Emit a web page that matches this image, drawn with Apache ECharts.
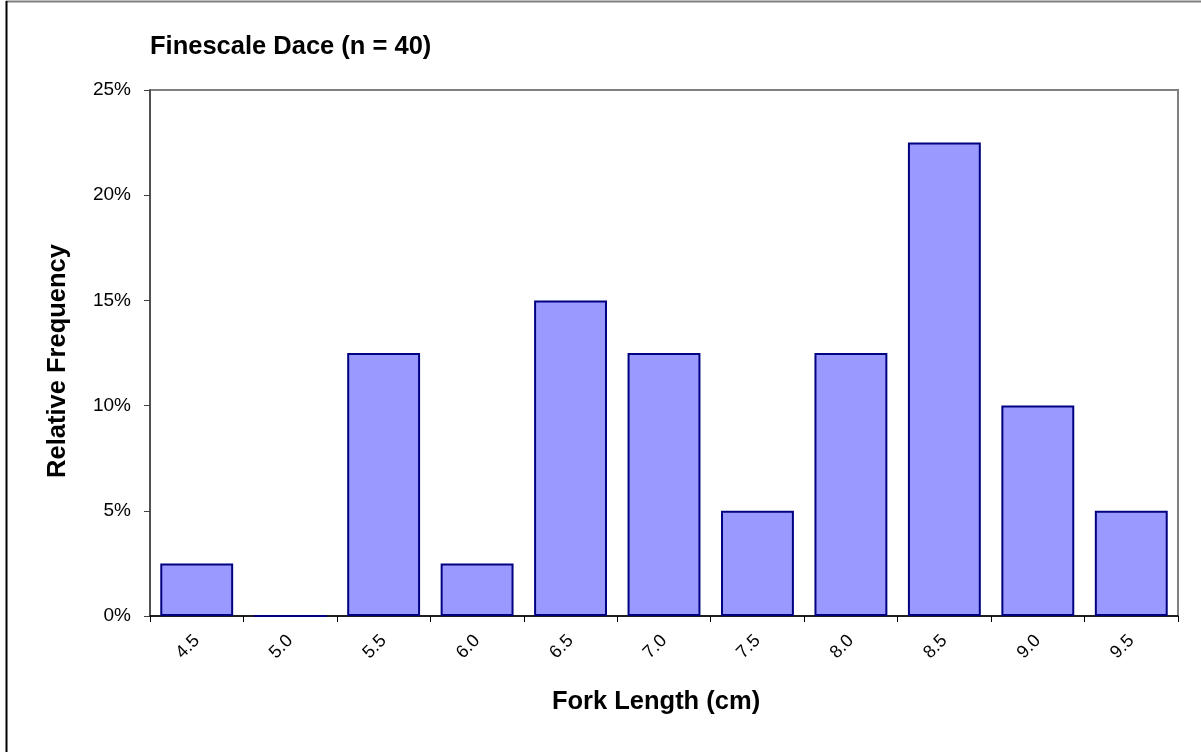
<!DOCTYPE html>
<html>
<head>
<meta charset="utf-8">
<script src="https://cdn.jsdelivr.net/npm/echarts@6/dist/echarts.min.js"></script>
<style>
html,body{margin:0;padding:0;background:#fff;}
#chart{width:1201px;height:752px;}
</style>
</head>
<body>
<div id="chart"></div>
<script>
const categories = ['4.5','5.0','5.5','6.0','6.5','7.0','7.5','8.0','8.5','9.0','9.5'];
const frequencies = [2.5, 0, 12.5, 2.5, 15, 12.5, 5, 12.5, 22.5, 10, 5];
const yTicks = [0, 5, 10, 15, 20, 25];
const titleText = 'Finescale Dace (n = 40)';
const xName = 'Fork Length (cm)';
const yName = 'Relative Frequency';

const chart = echarts.init(document.getElementById('chart'), null, {renderer:'canvas'});
const font = 'Liberation Sans, Arial, sans-serif';
chart.setOption({
  animation:false,
  backgroundColor:'#fff',
  textStyle:{fontFamily:font},
  title:{
    text:titleText, left:145, top:29,
    textStyle:{fontFamily:font, fontSize:25.5, fontWeight:'bold', color:'#000'}
  },
  grid:{left:150, right:23, top:90, bottom:136, show:true, borderColor:'#808080', borderWidth:2, backgroundColor:'transparent'},
  xAxis:{
    type:'category', data:categories,
    name:xName, nameLocation:'middle', nameGap:73,
    nameTextStyle:{fontFamily:font, fontSize:25.5, fontWeight:'bold', color:'#000', padding:[0,16,0,0]},
    axisLine:{lineStyle:{color:'#000', width:1.5}},
    axisTick:{show:true, length:6, lineStyle:{color:'#000'}},
    axisLabel:{rotate:45, fontSize:18, color:'#000', margin:22, fontFamily:font},
    splitLine:{show:false}
  },
  yAxis:{
    type:'value', min:yTicks[0], max:yTicks[yTicks.length-1], interval:5,
    name:yName, nameLocation:'middle', nameGap:79,
    nameTextStyle:{fontFamily:font, fontSize:25.5, fontWeight:'bold', color:'#000', padding:[0,16,0,0]},
    axisLine:{show:true, lineStyle:{color:'#404040', width:1.5}},
    axisTick:{show:true, length:6, lineStyle:{color:'#404040'}},
    axisLabel:{formatter:'{value}%', fontSize:19, color:'#000', margin:19, fontFamily:font},
    splitLine:{show:false}
  },
  series:[{
    type:'bar', data:frequencies, barCategoryGap:'22%',
    itemStyle:{color:'#9999FF', borderColor:'#000080', borderWidth:2}
  }],
  graphic:[
    {type:'line', shape:{x1:6, y1:1.5, x2:1201, y2:1.5}, style:{stroke:'#808080', lineWidth:2}},
    {type:'line', shape:{x1:6.5, y1:1, x2:6.5, y2:752}, style:{stroke:'#000', lineWidth:2}}
  ]
});
</script>
</body>
</html>
